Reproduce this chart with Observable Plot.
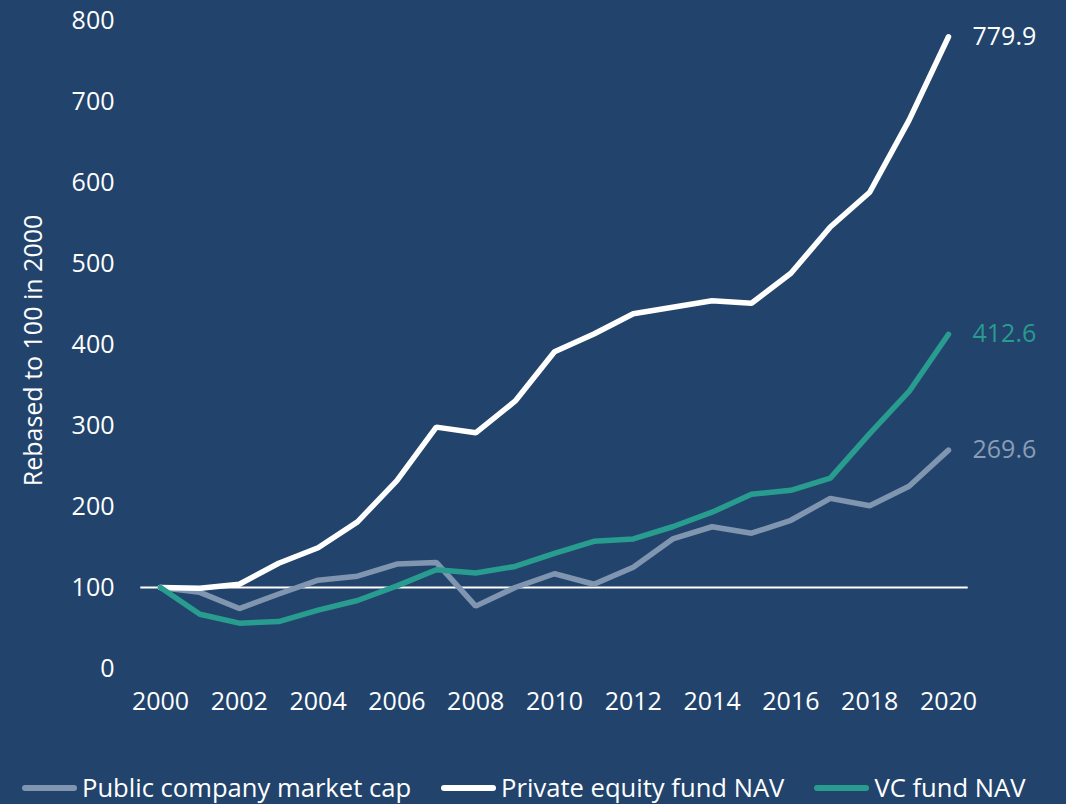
<!DOCTYPE html>
<html>
<head>
<meta charset="utf-8">
<script src="https://cdn.jsdelivr.net/npm/d3@7"></script>
<script src="https://cdn.jsdelivr.net/npm/@observablehq/plot@0.6"></script>
<style>
  html, body { margin: 0; padding: 0; background: #22446c; }
  body { width: 1066px; height: 804px; overflow: hidden; position: relative; font-family: "Open Sans", sans-serif; }
  #legend { position: absolute; left: 22px; top: 770px; display: flex; align-items: center; color: #ffffff; font-size: 25.6px; line-height: 36px; }
  .item { display: flex; align-items: center; margin-right: 30px; }
  .sw { display: inline-block; width: 55px; height: 6px; border-radius: 3px; margin-right: 5px; }
</style>
</head>
<body>
<div id="chart"></div>
<div id="legend"></div>
<script>
const years = d3.range(2000, 2021);
const publicCap = [100, 94, 74, 92, 109, 114, 129, 131, 77, 100, 117, 104, 125, 160, 175, 167, 183, 210, 201, 225, 269.6];
const peNav = [100, 99, 104, 130, 149, 181, 232, 298, 291, 330, 391, 413, 438, 446, 454, 451, 488, 545, 588, 677, 779.9];
const vcNav = [100, 67, 56, 58, 72, 84, 102, 122, 118, 126, 142, 157, 160, 175, 193, 215, 220, 235, 290, 342, 412.6];
const seriesNames = ["Public company market cap", "Private equity fund NAV", "VC fund NAV"];
const seriesColors = ["#8095b0", "#ffffff", "#289c8e"];
const labelColors = ["#8a9db7", "#ffffff", "#289c8e"];
const seriesValues = [publicCap, peNav, vcNav];
const yTicks = [0, 100, 200, 300, 400, 500, 600, 700, 800];
const xTicks = d3.range(2000, 2021, 2);
const baseline = [100];
const yLabel = "Rebased to 100 in 2000";

const rows = seriesNames.flatMap((name, i) =>
  years.map((year, j) => ({series: name, year, value: seriesValues[i][j], idx: i})));
const lastRows = seriesNames.map((name, i) => ({series: name, year: 2020, value: seriesValues[i][20], idx: i}));

const plot = Plot.plot({
  width: 1066,
  height: 740,
  marginLeft: 160,
  marginRight: 118,
  marginTop: 20,
  marginBottom: 72,
  style: {background: "transparent", color: "#ffffff", fontFamily: "'Open Sans', sans-serif", fontSize: "25px"},
  x: {domain: [2000, 2020], ticks: xTicks, tickFormat: d => String(d)},
  y: {domain: [0, 800], ticks: yTicks},
  marks: [
    Plot.axisX({ticks: xTicks, tickFormat: d => String(d), tickSize: 0, tickPadding: 24, fontSize: 25, label: null, color: "#ffffff"}),
    Plot.axisY({ticks: yTicks, tickSize: 0, tickPadding: 46, fontSize: 25, label: null, color: "#ffffff"}),
    Plot.ruleY(baseline, {y: d => d, x1: 1999.5, x2: 2020.5, stroke: "#ffffff", strokeWidth: 2}),
    ...seriesNames.map((name, i) =>
      Plot.line(rows.filter(r => r.idx === i), {x: "year", y: "value", stroke: seriesColors[i], strokeWidth: 5.5, strokeLinecap: "round", strokeLinejoin: "miter"})
    ),
    Plot.text(lastRows, {x: "year", y: "value", text: d => d.value.toFixed(1), fill: d => labelColors[d.idx], textAnchor: "start", dx: 24, fontSize: 25}),
    Plot.text([yLabel], {frameAnchor: "left", textAnchor: "middle", text: d => d, rotate: -90, dx: -127, dy: 6, fill: "#ffffff", fontSize: 25})
  ]
});
document.getElementById("chart").appendChild(plot);

const legend = document.getElementById("legend");
seriesNames.forEach((name, i) => {
  const item = document.createElement("div");
  item.className = "item";
  const sw = document.createElement("span");
  sw.className = "sw";
  sw.style.background = seriesColors[i];
  const t = document.createElement("span");
  t.textContent = name;
  item.appendChild(sw);
  item.appendChild(t);
  legend.appendChild(item);
});
</script>
</body>
</html>
